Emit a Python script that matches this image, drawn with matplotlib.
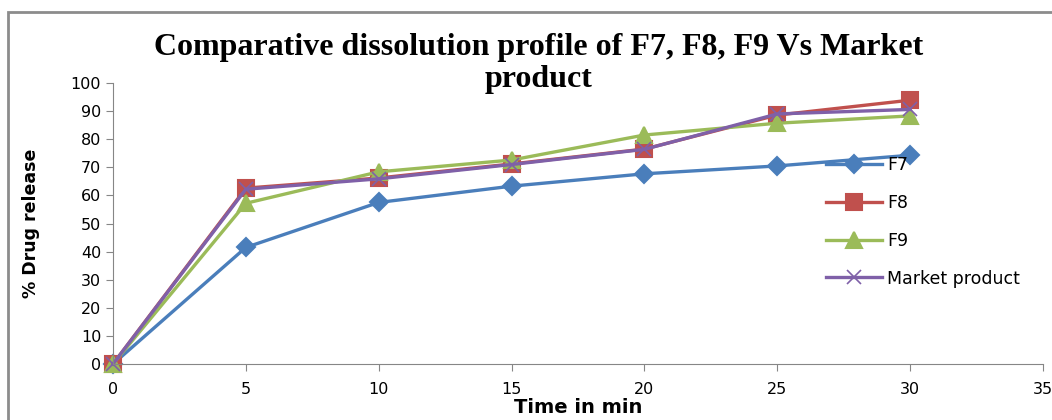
import matplotlib
matplotlib.use("Agg")
import matplotlib.pyplot as plt
from matplotlib.patches import Rectangle

time_min = [0, 5, 10, 15, 20, 25, 30]
f7 = [0, 41.5, 57.5, 63.3, 67.7, 70.5, 74.3]
f8 = [0, 62.6, 66.2, 71.2, 76.5, 88.6, 93.9]
f9 = [0, 57.2, 68.4, 72.6, 81.5, 85.7, 88.3]
market = [0, 62.2, 65.9, 71.0, 76.4, 89.0, 90.6]

series = [
    ("F7", f7, "#4A7EBB", "D", 9),
    ("F8", f8, "#C0504D", "s", 11),
    ("F9", f9, "#9BBB59", "^", 11),
    ("Market product", market, "#7F60A8", "x", 10),
]


def plot():
    fig = plt.figure(figsize=(10.52, 4.2), dpi=100)
    ax = fig.add_axes([0.1074, 0.1333, 0.884, 0.669])

    handles = []
    for name, vals, col, mk, ms in series:
        h, = ax.plot(time_min, vals, color=col, lw=2.4, marker=mk, ms=ms,
                     mew=1.5 if mk != "x" else 1.2, clip_on=False, label=name)
        handles.append(h)

    ax.set_xlim(0, 35)
    ax.set_ylim(0, 100)
    ax.set_xticks(range(0, 36, 5))
    ax.set_yticks(range(0, 101, 10))
    for s in ("top", "right"):
        ax.spines[s].set_visible(False)
    for s in ("left", "bottom"):
        ax.spines[s].set_color("#868686")
    ax.tick_params(colors="#868686", labelcolor="black", labelsize=11.5,
                   length=5, direction="out")
    ax.tick_params(axis="x", pad=8)

    ax.set_xlabel("Time in min", fontsize=14, fontweight="bold", labelpad=1)
    ax.set_ylabel("% Drug release", fontsize=12.5, fontweight="bold", labelpad=22)

    fig.text(0.512, 0.775, "Comparative dissolution profile of F7, F8, F9 Vs Market\nproduct",
             ha="center", va="bottom", fontsize=23, fontweight="bold",
             family="Liberation Serif", linespacing=1.15)

    fig.legend(handles=handles, loc="upper left", bbox_to_anchor=(0.777, 0.65),
               frameon=False, fontsize=12.5, handlelength=3.2, handletextpad=0.3,
               labelspacing=1.15, borderpad=0)

    fig.patches.append(Rectangle((8 / 1052, -0.2), 1.2, 1.2 - 12 / 420,
                                 transform=fig.transFigure, fill=False,
                                 edgecolor="#8C8C8C", lw=2, figure=fig))

    fig.savefig("out.png", dpi=100)


if __name__ == '__main__':
    plot()
